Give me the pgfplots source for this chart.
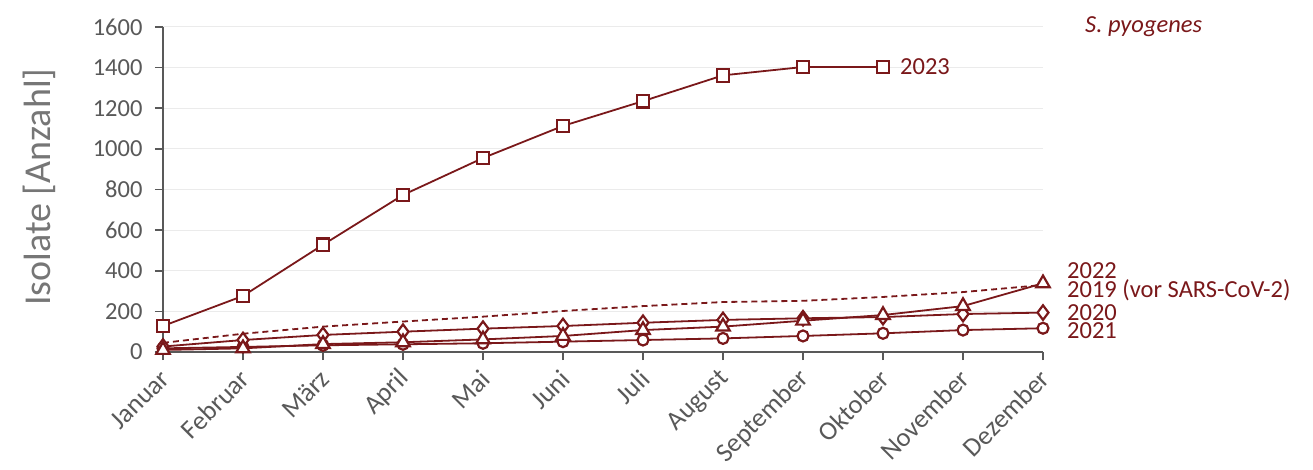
\documentclass[border=0pt]{standalone}
\usepackage{fontspec}
\setmainfont{Carlito}
\usepackage{pgfplots}
\pgfplotsset{compat=1.18}
\definecolor{dred}{RGB}{122,24,26}
\definecolor{tickgray}{RGB}{89,89,89}
\definecolor{labgray}{RGB}{118,118,118}
\newcommand{\fs}{\fontsize{24.5}{28}\selectfont}
\begin{document}
\begin{tikzpicture}
\begin{axis}[
  scale only axis, width=880pt, height=325pt,
  xmin=0, xmax=11, ymin=0, ymax=1600,
  axis lines*=left,
  axis line style={tickgray, line width=1.6pt},
  xtick={0,...,11},
  xticklabels={Januar,Februar,März,April,Mai,Juni,Juli,August,September,Oktober,November,Dezember},
  ytick={0,200,...,1600},
  tick align=outside, major tick length=8pt,
  tick style={tickgray, line width=1.6pt},
  ymajorgrids, grid style={color=black!8, line width=1pt},
  /pgf/number format/assume math mode=true,
  /pgf/number format/1000 sep={},
  x tick label style={font=\fontsize{26.5}{30}\selectfont, text=tickgray, inner sep=2pt, xshift=3.5pt, yshift=-13pt, rotate=45, anchor=east},
  y tick label style={font=\fs, text=tickgray, xshift=-9pt},
  ylabel={Isolate [Anzahl]},
  every axis y label/.style={at={(axis description cs:-0.14,0.507)}, rotate=90, anchor=center, font=\fontsize{38}{42}\selectfont, text=labgray},
  clip=false,
  every axis plot/.append style={dred, line width=1.8pt},
]
\addplot[dashed, dash pattern=on 6pt off 4pt, mark=none] coordinates {
(0,45)(1,90)(2,125)(3,150)(4,174)(5,202)(6,226)(7,246)(8,252)(9,271)(10,295)(11,330)};
\addplot[mark=*, mark size=5.5pt, mark options={fill=white, solid, line width=2.2pt}] coordinates {
(0,18)(1,25)(2,33)(3,38)(4,43)(5,51)(6,59)(7,67)(8,79)(9,92)(10,108)(11,117)};
\addplot[mark=diamond*, mark size=7.3pt, mark options={fill=white, solid, line width=2.2pt}] coordinates {
(0,27)(1,59)(2,84)(3,100)(4,115)(5,128)(6,144)(7,158)(8,166)(9,172)(10,187)(11,194)};
\addplot[mark=triangle*, mark size=7.8pt, mark options={fill=white, solid, line width=2.2pt}] coordinates {
(0,10)(1,18)(2,39)(3,48)(4,62)(5,79)(6,108)(7,125)(8,154)(9,182)(10,226)(11,338)};
\addplot[mark=square*, mark size=6.3pt, mark options={fill=white, solid, line width=2.2pt}] coordinates {
(0,128)(1,276)(2,528)(3,773)(4,955)(5,1113)(6,1235)(7,1362)(8,1403)(9,1403)};
\node[anchor=west, inner sep=0pt, text=dred, font=\fs, xshift=17pt] at (axis cs:9,1403) {2023};
\node[anchor=west, inner sep=0pt, text=dred, font=\fs, xshift=24pt] at (axis cs:11,399) {2022};
\node[anchor=west, inner sep=0pt, text=dred, font=\fs, xshift=24pt] at (axis cs:11,305) {2019 (vor SARS-CoV-2)};
\node[anchor=west, inner sep=0pt, text=dred, font=\fs, xshift=24pt] at (axis cs:11,192) {2020};
\node[anchor=west, inner sep=0pt, text=dred, font=\fs, xshift=24pt] at (axis cs:11,103) {2021};
\node[anchor=west, inner sep=0pt, text=dred, font=\fs\itshape, xshift=42pt] at (axis cs:11,1600) {S. pyogenes};
\end{axis}
\pgfresetboundingbox
\path ([shift={(-163pt,-117pt)}]current axis.south west) rectangle ([shift={(270pt,27pt)}]current axis.north east);
\end{tikzpicture}
\end{document}
